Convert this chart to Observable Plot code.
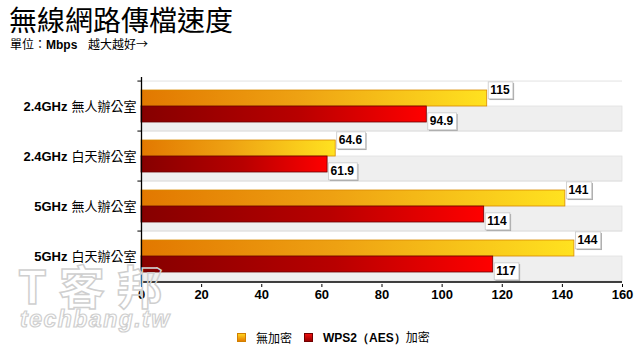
<!DOCTYPE html>
<html><head><meta charset="utf-8">
<script src="https://cdn.jsdelivr.net/npm/d3@7"></script>
<script src="https://cdn.jsdelivr.net/npm/@observablehq/plot@0.6"></script>
<style>
body{margin:0;width:640px;height:351px;position:relative;overflow:hidden;background:#fff;font-family:"Noto Sans CJK TC","Liberation Sans",sans-serif;color:#000}
#title{position:absolute;left:9px;top:2px;font-size:28px;line-height:34px;white-space:nowrap}
#sub{position:absolute;left:10px;top:36px;font-size:12px;line-height:15px;white-space:nowrap}
#sub b{font-family:"Liberation Sans",sans-serif;font-weight:bold}
#chart{position:absolute;left:0;top:52px;z-index:2}
#wm1{position:absolute;left:18px;top:256px;font-size:46px;line-height:56px;font-weight:700;color:transparent;-webkit-text-stroke:1.5px #cfcfcf;letter-spacing:12px;z-index:3;white-space:nowrap}
#wm2{position:absolute;left:20px;top:305px;font-family:"Liberation Sans",sans-serif;font-size:23px;line-height:28px;font-style:italic;font-weight:bold;color:transparent;-webkit-text-stroke:1.2px #cfcfcf;letter-spacing:1.5px;z-index:3;white-space:nowrap}
#legend{position:absolute;top:329px;left:237px;font-size:12px;line-height:16px;display:flex;align-items:center;white-space:nowrap;z-index:3}
.sw{width:9px;height:9px;display:inline-block;margin-right:10px}
#legend b{font-family:"Liberation Sans",sans-serif;font-weight:bold}
</style>
</head><body>
<div id="title">無線網路傳檔速度</div>
<div id="sub">單位：<b>Mbps</b>&nbsp;&nbsp;&nbsp;&nbsp;越大越好→</div>
<div id="wm1">T客邦</div>
<div id="wm2">techbang.tw</div>
<div id="chart"></div>
<div id="legend">
  <span class="sw" style="background:linear-gradient(#ffd21e,#e67e00);border:1px solid #d08000;box-sizing:border-box"></span><span style="margin-right:12px">無加密</span>
  <span class="sw" style="background:linear-gradient(#ee1010,#9a0000);border:1px solid #700000;box-sizing:border-box"></span><span><b>WPS2（AES）</b>加密</span>
</div>
<script>
const bandsLbl = ["2.4GHz", "2.4GHz", "5GHz", "5GHz"];
const placeLbl = ["無人辦公室", "白天辦公室", "無人辦公室", "白天辦公室"];
const categories = bandsLbl.map((b, i) => b + " " + placeLbl[i]);
const series = ["無加密", "WPS2（AES）加密"];
const noEnc = [115, 64.6, 141, 144];
const wps2 = [94.9, 61.9, 114, 117];
const xTicks = [0, 20, 40, 60, 80, 100, 120, 140, 160];

const rowKey = (c, s) => c + "|" + s;
const rows = categories.flatMap(c => [rowKey(c, 0), rowKey(c, 1)]);
const data = categories.flatMap((c, i) => [
  {cat: c, band: bandsLbl[i], place: placeLbl[i], s: 0, key: rowKey(c, 0), v: noEnc[i]},
  {cat: c, band: bandsLbl[i], place: placeLbl[i], s: 1, key: rowKey(c, 1), v: wps2[i]}
]);
const upper = data.filter(d => d.s === 0);
const lower = data.filter(d => d.s === 1);
const valueStrings = new Set(data.map(d => String(d.v)));

const W = 640, H = 262, mt = 25, mb = 30, ml = 141, mr = 18;
const rowH = (H - mt - mb) / rows.length;

const svg = Plot.plot({
  width: W, height: H,
  marginTop: mt, marginBottom: mb, marginLeft: ml, marginRight: mr,
  style: {background: "transparent", fontFamily: "'Liberation Sans', sans-serif", fontSize: "12px", color: "#000", overflow: "visible"},
  x: {domain: [0, 160], ticks: xTicks, label: null},
  y: {domain: rows, padding: 0, axis: null},
  marks: [
    Plot.barX(lower, {y: "key", x1: 0, x2: 160, fill: "#efefef", stroke: "#e2e2e2", strokeWidth: 0.8}),
    Plot.ruleY(upper, {y: "key", dy: -rowH / 2, stroke: "#e2e2e2"}),
    Plot.barX(upper, {y: "key", x: "v", fill: "url(#gOrange)", stroke: "#d98a00", strokeWidth: 0.8, insetTop: 9, insetBottom: 0}),
    Plot.barX(lower, {y: "key", x: "v", fill: "url(#gRed)", stroke: "#6a0000", strokeWidth: 0.8, insetTop: 0, insetBottom: 9}),
    Plot.ruleX([0], {stroke: "#000", strokeWidth: 1.3}),
    Plot.ruleY(lower.slice(-1), {y: "key", dy: rowH / 2, stroke: "#000", strokeWidth: 1.5}),
    Plot.ruleY(upper, {y: "key", dy: -rowH / 2, x1: -1.2, x2: 0, stroke: "#000"}),
    Plot.axisX({ticks: xTicks, tickSize: 3, tickPadding: 2, fontSize: 13, fontWeight: "bold", stroke: "#000", label: null}),
    Plot.text(upper, {y: "key", text: "place", frameAnchor: "left", textAnchor: "end", dx: -5, dy: rowH / 2, fontSize: 13, fontFamily: "'Noto Sans CJK TC', sans-serif"}),
    Plot.text(upper, {y: "key", text: "band", frameAnchor: "left", textAnchor: "end", dx: -74, dy: rowH / 2, fontSize: 13, fontWeight: "bold"}),
    Plot.text(upper, {y: "key", x: "v", text: d => String(d.v), textAnchor: "start", dx: 3, dy: -3.5, fontSize: 12, fontWeight: "bold"}),
    Plot.text(lower, {y: "key", x: "v", text: d => String(d.v), textAnchor: "start", dx: 3, dy: 2.5, fontSize: 12, fontWeight: "bold"})
  ]
});

document.getElementById("chart").appendChild(svg);

const sel = d3.select(svg);
const defs = sel.insert("defs", ":first-child");
const g1 = defs.append("linearGradient").attr("id", "gOrange");
g1.append("stop").attr("offset", "0%").attr("stop-color", "#e27800");
g1.append("stop").attr("offset", "45%").attr("stop-color", "#eea112");
g1.append("stop").attr("offset", "100%").attr("stop-color", "#ffe220");
const g2 = defs.append("linearGradient").attr("id", "gRed");
g2.append("stop").attr("offset", "0%").attr("stop-color", "#860000");
g2.append("stop").attr("offset", "55%").attr("stop-color", "#b80000");
g2.append("stop").attr("offset", "100%").attr("stop-color", "#ff0000");

Array.from(svg.querySelectorAll("text")).forEach(function (t) {
  if (!valueStrings.has(t.textContent.trim())) return;
  const b = t.getBBox();
  const parent = t.parentNode;
  const tr = t.getAttribute("transform");
  const cy = b.y + b.height / 2;
  const mk = (off, fill, stroke) => {
    const r = document.createElementNS("http://www.w3.org/2000/svg", "rect");
    r.setAttribute("x", b.x - 2 + off); r.setAttribute("y", cy - 8.5 + off);
    r.setAttribute("width", b.width + 5); r.setAttribute("height", 17);
    r.setAttribute("fill", fill);
    if (stroke) { r.setAttribute("stroke", stroke); r.setAttribute("stroke-width", 0.8); }
    if (tr) r.setAttribute("transform", tr);
    parent.insertBefore(r, t);
  };
  mk(1.2, "#a8a8a8");
  mk(0, "#fff", "#c8c8c8");
});
</script>
</body></html>
